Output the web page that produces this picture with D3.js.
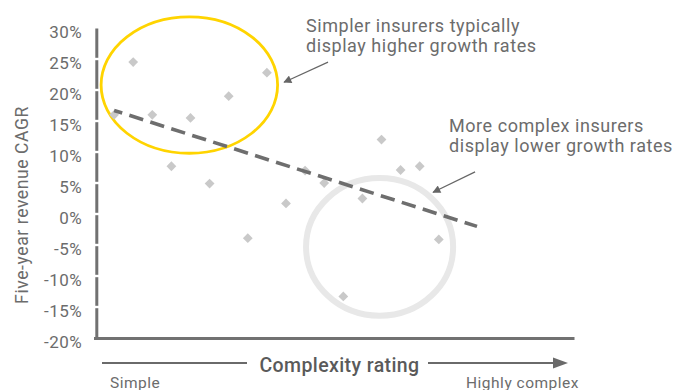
<!DOCTYPE html>
<html>
<head>
<meta charset="utf-8">
<script src="https://cdn.jsdelivr.net/npm/d3@7"></script>
<style>
  html, body { margin: 0; padding: 0; background: #ffffff; }
  svg { display: block; font-family: Roboto, "Open Sans", sans-serif; }
</style>
</head>
<body>
<svg id="chart" width="692" height="390"></svg>
<script>
// ---- data ----
const complexity = [1, 2, 3, 4, 5, 6, 7, 8, 9, 10, 11, 12, 13, 14, 15, 16, 17, 18];
const growth     = [16.0, 24.5, 16.0, 7.7, 15.5, 4.9, 19.0, -3.9, 22.8, 1.7, 7.0, 5.0, -13.3, 2.5, 12.0, 7.1, 7.7, -4.1];
const trendX = [1, 20];
const trendY = [16.7, -2.0];
const yTicks = [30, 25, 20, 15, 10, 5, 0, -5, -10, -15, -20];
const yTitle = "Five-year revenue CAGR";
const xTitle = "Complexity rating";
const xLow = "Simple";
const xHigh = "Highly complex";
const noteSimple = ["Simpler insurers typically", "display higher growth rates"];
const noteComplex = ["More complex insurers", "display lower growth rates"];
// highlight ellipses in data units: [cx, cy, rx, ry]
const ellipseSimple = [4.94, 20.8, 4.62, 11.0];
const ellipseComplex = [14.9, -5.3, 3.85, 11.1];
// arrows in data units: [x1, y1, x2, y2]
const arrowSimple = [12.2, 24.5, 9.9, 21.25];
const arrowComplex = [19.9, 6.8, 17.7, 3.5];

// ---- scales ----
const svg = d3.select("#chart");
const x = d3.scaleLinear().domain([0, 25]).range([95, 572.5]);
const y = d3.scaleLinear().domain([-20, 30]).range([338, 28]);
const axisColor = "#717171";
const textColor = "#6c6c6c";

// defs: arrow head
const defs = svg.append("defs");
defs.append("marker").attr("id", "ah").attr("viewBox", "0 0 10 10")
  .attr("refX", 9).attr("refY", 5).attr("markerWidth", 9).attr("markerHeight", 8)
  .attr("markerUnits", "userSpaceOnUse").attr("orient", "auto")
  .append("path").attr("d", "M0,0 L10,5 L0,10 Z").attr("fill", "#666");

// highlight ellipses
svg.append("ellipse")
  .attr("cx", x(ellipseSimple[0])).attr("cy", y(ellipseSimple[1]))
  .attr("rx", x(ellipseSimple[2]) - x(0)).attr("ry", y(0) - y(ellipseSimple[3]))
  .attr("fill", "none").attr("stroke", "#ffd400").attr("stroke-width", 2.8);
svg.append("ellipse")
  .attr("cx", x(ellipseComplex[0])).attr("cy", y(ellipseComplex[1]))
  .attr("rx", x(ellipseComplex[2]) - x(0)).attr("ry", y(0) - y(ellipseComplex[3]))
  .attr("fill", "none").attr("stroke", "#e8e8e8").attr("stroke-width", 6);

// y axis
const yAxis = d3.axisLeft(y).tickValues(yTicks).tickSize(0).tickSizeOuter(0)
  .tickPadding(14).tickFormat(d => d + "%");
const gy = svg.append("g").attr("transform", "translate(96.3,0)").call(yAxis);
gy.select(".domain").attr("stroke", axisColor).attr("stroke-width", 3);
gy.selectAll(".tick text").attr("fill", textColor).attr("font-size", 17)
  .attr("letter-spacing", 0.5)
  .attr("font-family", "Roboto, sans-serif").attr("dy", "0.55em");
// white gaps at interior ticks
gy.selectAll(".gap").data(yTicks.slice(1, -1)).enter().append("rect")
  .attr("x", -3).attr("width", 6).attr("y", d => y(d) - 1.2).attr("height", 2.4)
  .attr("fill", "#ffffff");

// x axis line
const xAxis = d3.axisBottom(x).tickValues([]).tickSizeOuter(0);
const gx = svg.append("g").attr("transform", `translate(0,${y(-20)})`).call(xAxis);
gx.select(".domain").attr("stroke", axisColor).attr("stroke-width", 3)
  .attr("stroke-linecap", "square");

// points
svg.append("g").selectAll("path").data(complexity).enter().append("path")
  .attr("d", d3.symbol().type(d3.symbolSquare).size(48))
  .attr("transform", (d, i) => `translate(${x(d)},${y(growth[i])}) rotate(45)`)
  .attr("fill", "#c9c9c9");

// trend line
const line = d3.line().x(d => x(d[0])).y(d => y(d[1]));
svg.append("path").datum(trendX.map((d, i) => [d, trendY[i]]))
  .attr("d", line).attr("fill", "none").attr("stroke", "#6e6e6e")
  .attr("stroke-width", 3.6).attr("stroke-dasharray", "14.5,7.5")
  .attr("stroke-dashoffset", 6);

// annotation arrows
[arrowSimple, arrowComplex].forEach(a => {
  svg.append("line").attr("x1", x(a[0])).attr("y1", y(a[1]))
    .attr("x2", x(a[2])).attr("y2", y(a[3]))
    .attr("stroke", "#666").attr("stroke-width", 1.2).attr("marker-end", "url(#ah)");
});

// annotation text
function note(lines, x0, y0) {
  const t = svg.append("text").attr("x", x0).attr("y", y0)
    .attr("fill", textColor).attr("font-size", 18).attr("letter-spacing", 0.55);
  lines.forEach((s, i) => t.append("tspan").attr("x", x0).attr("dy", i ? 20 : 0).text(s));
}
note(noteSimple, 306, 32);
note(noteComplex, 449, 132);

// y title
svg.append("text").attr("transform", "translate(28,205) rotate(-90)")
  .attr("text-anchor", "middle").attr("fill", textColor).attr("font-size", 17.5)
  .attr("letter-spacing", 0.6)
  .text(yTitle);

// x title with arrow lines
svg.append("text").attr("x", 339.5).attr("y", 371.5).attr("text-anchor", "middle")
  .attr("fill", "#5a5a5a").attr("font-size", 19.5).attr("font-weight", 500)
  .attr("letter-spacing", 0.4)
  .text(xTitle);
svg.append("line").attr("x1", 102).attr("x2", 247).attr("y1", 363).attr("y2", 363)
  .attr("stroke", "#6a6a6a").attr("stroke-width", 2);
svg.append("line").attr("x1", 428).attr("x2", 555).attr("y1", 363).attr("y2", 363)
  .attr("stroke", "#6a6a6a").attr("stroke-width", 2);
svg.append("path").attr("d", "M553,357.5 L568,363 L553,368.5 Z").attr("fill", "#6a6a6a");

svg.append("text").attr("x", 110).attr("y", 387.5).attr("fill", textColor)
  .attr("font-size", 15.5).attr("letter-spacing", 0.5).text(xLow);
svg.append("text").attr("x", 579).attr("y", 387.5).attr("text-anchor", "end")
  .attr("fill", textColor).attr("font-size", 15.5).attr("letter-spacing", 0.5).text(xHigh);
</script>
</body>
</html>
